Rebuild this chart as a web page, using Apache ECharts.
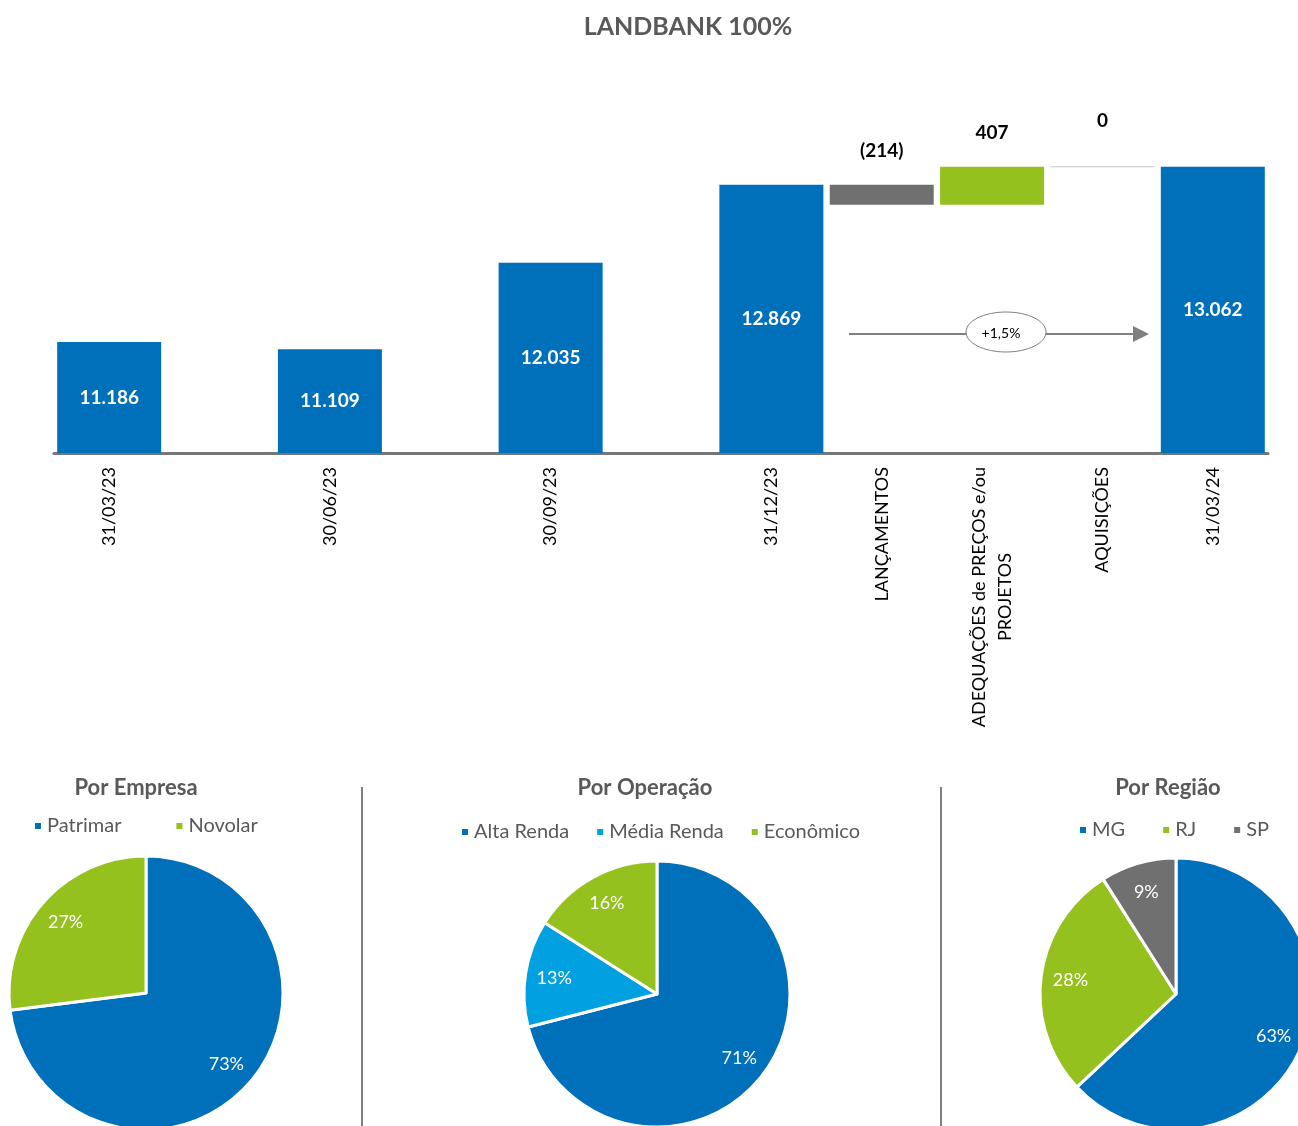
<!DOCTYPE html>
<html>
<head>
<meta charset="utf-8">
<script src="https://cdn.jsdelivr.net/npm/echarts@6/dist/echarts.min.js"></script>
<style>
  html, body { margin: 0; padding: 0; background: #fff; }
  #chart { width: 1298px; height: 1126px; }
</style>
</head>
<body>
<div id="chart"></div>
<script>
// waterfall data (empty strings are spacer slots between the quarter bars)
const categories = ['31/03/23', '', '30/06/23', '', '30/09/23', '', '31/12/23',
  'LANÇAMENTOS', 'ADEQUAÇÕES de PREÇOS e/ou\nPROJETOS', 'AQUISIÇÕES', '31/03/24']
const totals = [11186, null, 11109, null, 12035, null, 12869, null, null, null, 13062]
const changes = [null, null, null, null, null, null, null, -214, 407, 0, null]

// pies
const empresaNames = ['Patrimar', 'Novolar']
const empresaValues = [73, 27]
const operacaoNames = ['Alta Renda', 'Média Renda', 'Econômico']
const operacaoValues = [71, 13, 16]
const regiaoNames = ['MG', 'RJ', 'SP']
const regiaoValues = [63, 28, 9]

const BLUE = '#0070BA'
const GREEN = '#95C11F'
const GRAY = '#707070'
const LIGHTBLUE = '#00A0E1'
const TXT = '#595959'
const FONT = 'Lato'

function fmt(n) {
  return String(n).replace(/\B(?=(\d{3})+(?!\d))/g, '.')
}

// build stacked pieces for the waterfall
let running = 0
const totalData = [], baseData = [], deltaData = []
categories.forEach((c, i) => {
  if (totals[i] != null) {
    running = totals[i]
    totalData.push(totals[i]); baseData.push('-'); deltaData.push('-')
  } else if (changes[i] != null) {
    const ch = changes[i]
    baseData.push(ch < 0 ? running + ch : running)
    let item = { value: Math.abs(ch), itemStyle: { color: ch < 0 ? GRAY : GREEN } }
    if (ch === 0) {
      item.itemStyle = { color: 'rgba(0,0,0,0)', borderColor: '#d4d4d4', borderWidth: 1 }
      item.label = { distance: 36 }
    }
    deltaData.push(item)
    totalData.push('-')
    running += ch
  } else {
    totalData.push('-'); baseData.push('-'); deltaData.push('-')
  }
})

function pieSeries(names, values, colors, center, radius) {
  const data = names.map((n, i) => ({ name: n, value: values[i], itemStyle: { color: colors[i] } }))
  return [{
    type: 'pie',
    center: center,
    radius: radius,
    startAngle: 90,
    data: data,
    label: { show: false },
    labelLine: { show: false },
    itemStyle: { borderColor: '#fff', borderWidth: 3 },
    emphasis: { disabled: true },
    animation: false
  }, {
    // transparent ring, only used to place the percent labels further out
    type: 'pie',
    center: center,
    radius: [radius * 0.52, radius],
    startAngle: 90,
    silent: true,
    data: names.map((n, i) => ({ name: n, value: values[i], itemStyle: { color: 'rgba(0,0,0,0)' } })),
    label: {
      show: true, position: 'inside', formatter: '{c}%',
      color: '#fff', fontSize: 18, fontFamily: FONT
    },
    labelLine: { show: false },
    emphasis: { disabled: true },
    animation: false
  }]
}

function legend(names, left, top, gap) {
  return {
    data: names, left: left, top: top, itemGap: gap,
    icon: 'rect', itemWidth: 8, itemHeight: 8,
    selectedMode: false,
    textStyle: { color: TXT, fontSize: 20, fontFamily: FONT }
  }
}

const chart = echarts.init(document.getElementById('chart'))

chart.setOption({
  backgroundColor: '#fff',
  animation: false,
  grid: { left: 54, right: 30, top: 79, bottom: 673 },
  xAxis: {
    type: 'category',
    data: categories,
    axisTick: { show: false },
    axisLine: { lineStyle: { color: '#767676', width: 3 } },
    axisLabel: {
      interval: 0, rotate: 90, margin: 14,
      color: '#000', fontSize: 18, fontFamily: FONT,
      formatter: function (v) {
        if (v.indexOf('\n') >= 0) {
          return v.split('\n').map(s => '{c|' + s + '}').join('\n')
        }
        return v
      },
      rich: {
        c: { align: 'center', color: '#000', fontSize: 18, fontFamily: FONT, lineHeight: 26 }
      }
    }
  },
  yAxis: {
    type: 'value', min: 10000, max: 14000,
    show: false,
    splitLine: { show: false }
  },
  legend: [
    legend(empresaNames, 28, 811, 53),
    legend(operacaoNames, 455, 817, 26),
    legend(regiaoNames, 1073, 815, 36)
  ],
  series: [
    {
      name: 'total',
      type: 'bar',
      data: totalData,
      barWidth: 104,
      barGap: '-100%',
      itemStyle: { color: BLUE },
      label: {
        show: true, position: 'inside',
        color: '#fff', fontWeight: 'bold', fontSize: 19, fontFamily: FONT,
        formatter: p => fmt(p.value)
      }
    },
    {
      name: 'base',
      type: 'bar',
      stack: 'wf',
      data: baseData,
      barWidth: 104,
      itemStyle: { color: 'rgba(0,0,0,0)' },
      silent: true
    },
    {
      name: 'delta',
      type: 'bar',
      stack: 'wf',
      data: deltaData,
      barWidth: 104,
      label: {
        show: true, position: 'top', distance: 24,
        color: '#000', fontWeight: 'bold', fontSize: 19, fontFamily: FONT,
        formatter: p => {
          const ch = changes[p.dataIndex]
          return ch < 0 ? '(' + fmt(-ch) + ')' : fmt(ch)
        }
      }
    },
    ...pieSeries(empresaNames, empresaValues, [BLUE, GREEN], [146, 993], 137),
    ...pieSeries(operacaoNames, operacaoValues, [BLUE, LIGHTBLUE, GREEN], [657, 994], 133),
    ...pieSeries(regiaoNames, regiaoValues, [BLUE, GREEN, GRAY], [1176, 994], 136)
  ],
  graphic: [
    { type: 'text', x: 688, y: 27, style: { text: 'LANDBANK 100%', fill: TXT, font: 'bold 25px Lato', textAlign: 'center', textVerticalAlign: 'middle' } },
    { type: 'text', x: 136, y: 788, style: { text: 'Por Empresa', fill: TXT, font: 'bold 22px Lato', textAlign: 'center', textVerticalAlign: 'middle' } },
    { type: 'text', x: 645, y: 788, style: { text: 'Por Operação', fill: TXT, font: 'bold 22px Lato', textAlign: 'center', textVerticalAlign: 'middle' } },
    { type: 'text', x: 1168, y: 788, style: { text: 'Por Região', fill: TXT, font: 'bold 22px Lato', textAlign: 'center', textVerticalAlign: 'middle' } },
    // separators
    { type: 'line', shape: { x1: 362, y1: 787, x2: 362, y2: 1126 }, style: { stroke: '#808080', lineWidth: 2 } },
    { type: 'line', shape: { x1: 941, y1: 787, x2: 941, y2: 1126 }, style: { stroke: '#808080', lineWidth: 2 } },
    // growth arrow
    { type: 'line', shape: { x1: 849, y1: 334, x2: 1135, y2: 334 }, style: { stroke: '#7f7f7f', lineWidth: 2 } },
    { type: 'polygon', shape: { points: [[1133, 326], [1149, 334], [1133, 342]] }, style: { fill: '#7f7f7f' } },
    { type: 'ellipse', shape: { cx: 1006, cy: 332, rx: 40, ry: 20 }, style: { fill: '#fff', stroke: '#7f7f7f', lineWidth: 1 } },
    { type: 'text', x: 1001, y: 333, style: { text: '+1,5%', fill: '#000', font: '14px Lato', textAlign: 'center', textVerticalAlign: 'middle' } }
  ]
})
</script>
</body>
</html>
